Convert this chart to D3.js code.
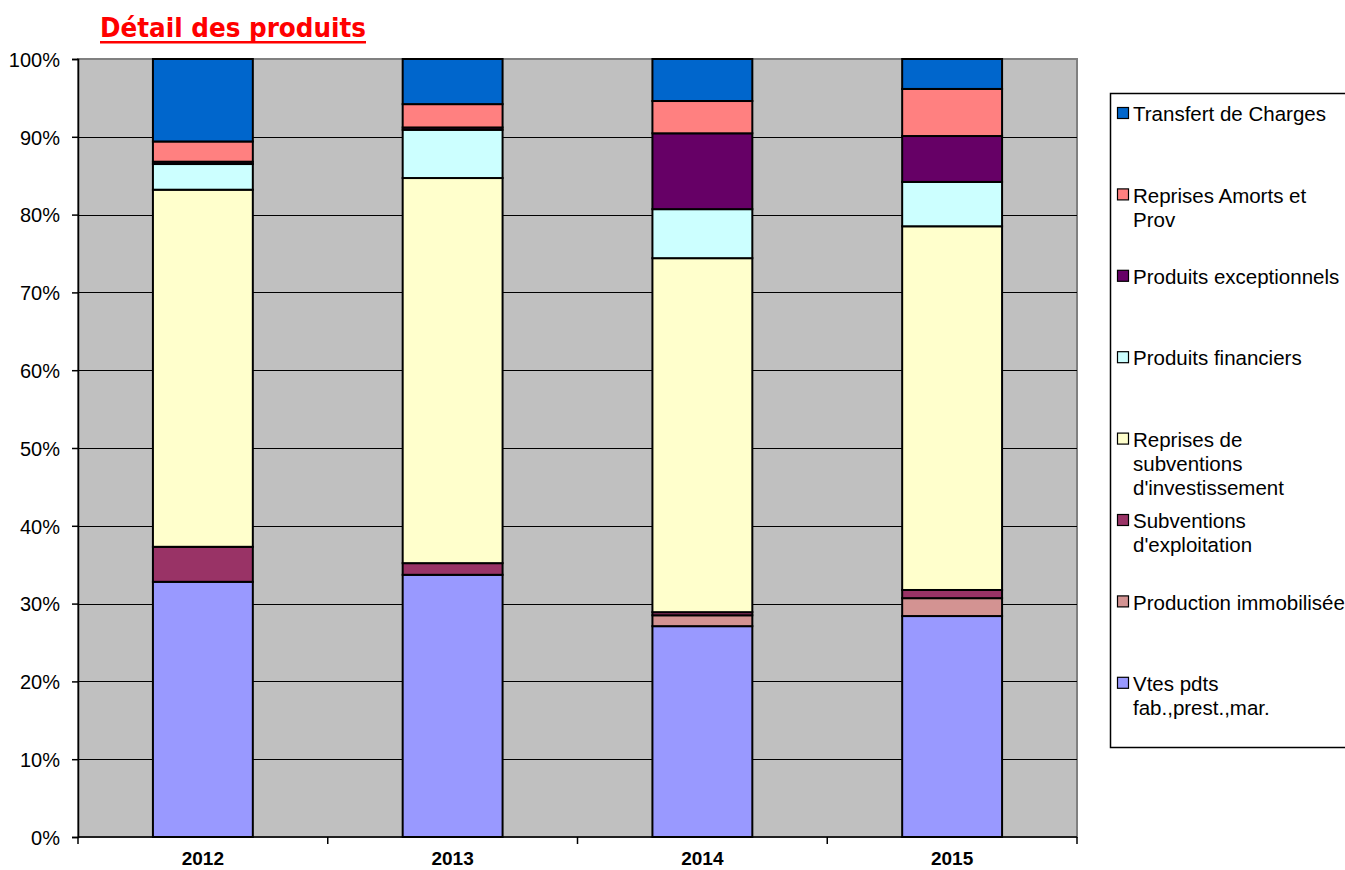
<!DOCTYPE html>
<html>
<head>
<meta charset="utf-8">
<script src="https://cdnjs.cloudflare.com/ajax/libs/d3/7.8.5/d3.min.js"></script>
<style>
  body { margin: 0; background: #fff; }
  svg { display: block; font-family: "Liberation Sans", Arial, sans-serif; }
</style>
</head>
<body>
<div id="chart"></div>
<script>
// Data (percent of total products per year)
const years = ["2012", "2013", "2014", "2015"];

const seriesNames = [
    "Vtes pdts fab.,prest.,mar.",
    "Production immobilisée",
    "Subventions d'exploitation",
    "Reprises de subventions d'investissement",
    "Produits financiers",
    "Produits exceptionnels",
    "Reprises Amorts et Prov",
    "Transfert de Charges"
];

const ventes = [32.8, 33.7, 27.1, 28.4];
const productionImmo = [0, 0, 1.4, 2.3];
const subvExploitation = [4.5, 1.5, 0.4, 1.05];
const reprisesSubv = [45.9, 49.5, 45.5, 46.75];
const produitsFinanciers = [3.3, 6.2, 6.3, 5.7];
const produitsExceptionnels = [0.3, 0.3, 9.75, 5.9];
const reprisesAmorts = [2.6, 3.0, 4.15, 6.05];
const transfertCharges = [10.6, 5.8, 5.4, 3.85];

// legend text, split the way Excel wrapped it (top to bottom)
const legendLines = [
    ["Transfert de Charges"],
    ["Reprises Amorts et", "Prov"],
    ["Produits exceptionnels"],
    ["Produits financiers"],
    ["Reprises de", "subventions", "d'investissement"],
    ["Subventions", "d'exploitation"],
    ["Production immobilisée"],
    ["Vtes pdts", "fab.,prest.,mar."]
];

const yTicks = [0, 0.1, 0.2, 0.3, 0.4, 0.5, 0.6, 0.7, 0.8, 0.9, 1];

const colors = ["#9999FF", "#D39392", "#993366", "#FFFFCC", "#CCFFFF", "#660066", "#FF8080", "#0066CC"];

const allSeries = [ventes, productionImmo, subvExploitation, reprisesSubv,
    produitsFinanciers, produitsExceptionnels, reprisesAmorts, transfertCharges];

// table for d3.stack
const table = years.map((y, i) => {
    const row = { year: y };
    seriesNames.forEach((name, k) => { row[name] = allSeries[k][i]; });
    return row;
});

const W = 1345, H = 870;
const plot = { left: 78, right: 1077, top: 59, bottom: 837 };

const svg = d3.select("#chart").append("svg")
    .attr("width", W)
    .attr("height", H);

// Title
svg.append("text")
    .attr("x", 100)
    .attr("y", 37)
    .attr("textLength", 266)
    .attr("lengthAdjust", "spacingAndGlyphs")
    .style("font-family", "'DejaVu Sans', Verdana, sans-serif")
    .style("font-weight", "bold")
    .style("font-size", "26px")
    .style("fill", "#FF0000")
    .text("Détail des produits");

svg.append("rect")
    .attr("x", 100)
    .attr("y", 41)
    .attr("width", 266)
    .attr("height", 2.5)
    .attr("fill", "#FF0000");

const xCat = d3.scaleBand()
    .domain(years)
    .range([plot.left, plot.right])
    .paddingInner(0.6)
    .paddingOuter(0.3);

const xStep = d3.scaleBand()
    .domain(years)
    .range([plot.left, plot.right])
    .padding(0);

const y = d3.scaleLinear()
    .domain([0, 1])
    .range([plot.bottom, plot.top]);

// plot area background
svg.append("rect")
    .attr("x", plot.left)
    .attr("y", plot.top)
    .attr("width", plot.right - plot.left)
    .attr("height", plot.bottom - plot.top)
    .attr("fill", "#C0C0C0")
    .attr("stroke", "#808080")
    .attr("stroke-width", 2);

// gridlines
svg.append("g")
    .selectAll("line")
    .data(yTicks.slice(1, -1))
    .enter().append("line")
    .attr("x1", plot.left)
    .attr("x2", plot.right)
    .attr("y1", d => Math.round(y(d)) + 0.5)
    .attr("y2", d => Math.round(y(d)) + 0.5)
    .attr("stroke", "#000")
    .attr("stroke-width", 1.2);

// stacked bars
const stack = d3.stack()
    .keys(seriesNames)
    .offset(d3.stackOffsetExpand);

const layers = stack(table);

svg.append("g")
    .selectAll("g")
    .data(layers)
    .enter().append("g")
    .attr("fill", (d, i) => colors[i])
    .selectAll("rect")
    .data(d => d)
    .enter().append("rect")
    .attr("x", d => xCat(d.data.year))
    .attr("width", xCat.bandwidth())
    .attr("y", d => y(d[1]))
    .attr("height", d => y(d[0]) - y(d[1]))
    .attr("stroke", "#000")
    .attr("stroke-width", 2);

// y axis
const yAxis = svg.append("g")
    .attr("transform", `translate(${plot.left},0)`)
    .call(d3.axisLeft(y)
        .tickValues(yTicks)
        .tickSize(6)
        .tickPadding(12)
        .tickFormat(d3.format(".0%")));

yAxis.select(".domain").attr("stroke", "#000").attr("stroke-width", 1.5);
yAxis.selectAll(".tick line").attr("stroke", "#000").attr("stroke-width", 1.5);
yAxis.selectAll("text")
    .style("font-size", "20px")
    .style("fill", "#000")
    .attr("dy", "0.36em");

// x axis: labels centred on categories, ticks at category boundaries
const xAxis = svg.append("g")
    .attr("transform", `translate(0,${plot.bottom})`);

xAxis.append("line")
    .attr("x1", plot.left)
    .attr("x2", plot.right)
    .attr("stroke", "#000")
    .attr("stroke-width", 1.5);

xAxis.selectAll(".xtick")
    .data(years.map(d => xStep(d)).concat([plot.right]))
    .enter().append("line")
    .attr("class", "xtick")
    .attr("x1", d => d)
    .attr("x2", d => d)
    .attr("y1", 0)
    .attr("y2", 7)
    .attr("stroke", "#000")
    .attr("stroke-width", 1.5);

xAxis.selectAll(".xlabel")
    .data(years)
    .enter().append("text")
    .attr("class", "xlabel")
    .attr("x", d => xCat(d) + xCat.bandwidth() / 2)
    .attr("y", 28)
    .attr("text-anchor", "middle")
    .style("font-size", "19px")
    .style("font-weight", "bold")
    .style("fill", "#000")
    .text(d => d);

// legend
const legend = svg.append("g");

legend.append("rect")
    .attr("x", 1110.5)
    .attr("y", 93.5)
    .attr("width", 260)
    .attr("height", 654)
    .attr("fill", "#fff")
    .attr("stroke", "#000")
    .attr("stroke-width", 1.5);

const legendColors = colors.slice().reverse();

const items = legend.selectAll(".item")
    .data(legendLines)
    .enter().append("g")
    .attr("class", "item")
    .attr("transform", (d, i) => `translate(1117,${114 + i * 81.4})`);

items.append("rect")
    .attr("x", 0.5)
    .attr("y", -6.5)
    .attr("width", 11)
    .attr("height", 11)
    .attr("fill", (d, i) => legendColors[i])
    .attr("stroke", "#000")
    .attr("stroke-width", 1.2);

items.append("text")
    .attr("x", 16)
    .attr("y", 0)
    .style("font-size", "20.5px")
    .style("fill", "#000")
    .selectAll("tspan")
    .data(d => d)
    .enter().append("tspan")
    .attr("x", 16)
    .attr("dy", (d, i) => i === 0 ? "0.35em" : "24px")
    .text(d => d);
</script>
</body>
</html>
